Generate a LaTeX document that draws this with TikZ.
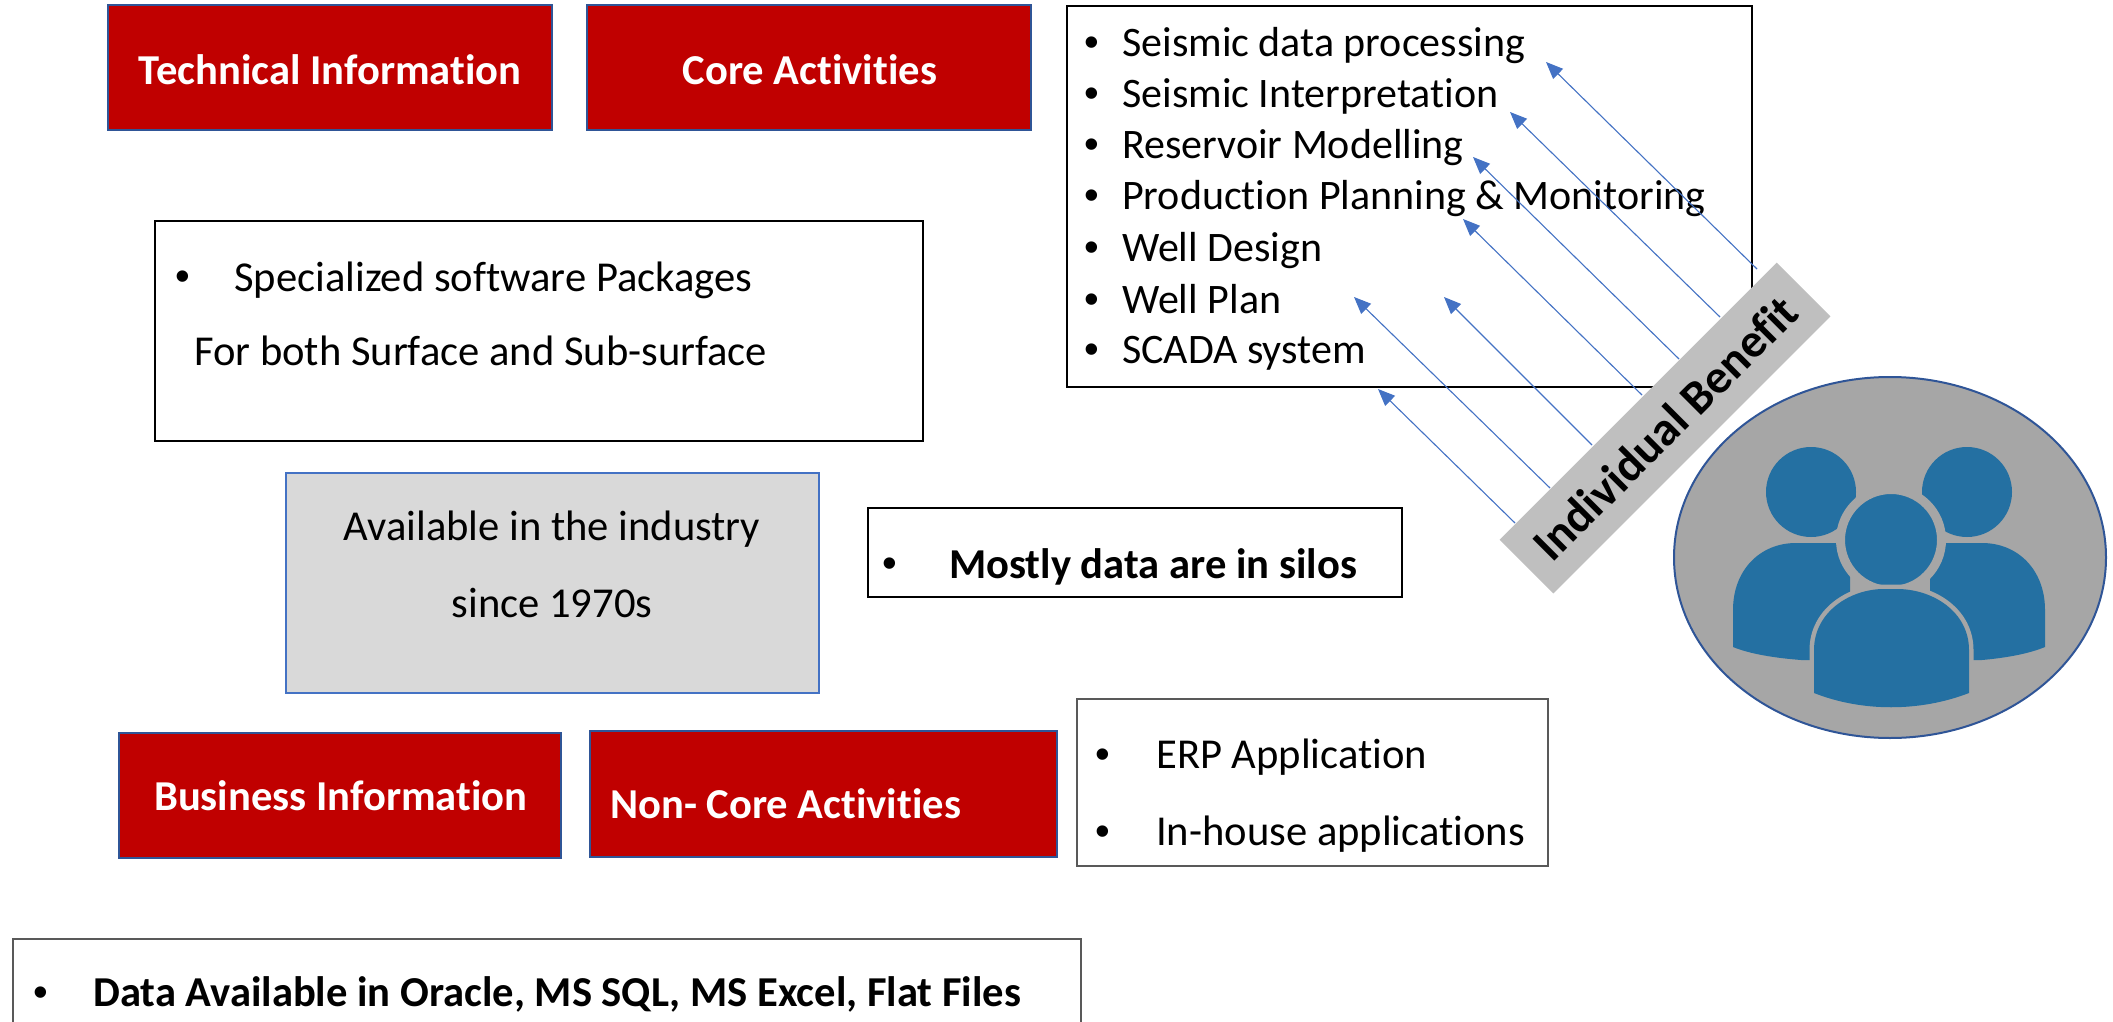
\documentclass[tikz,border=0pt]{standalone}
\usepackage{fontspec}
\setmainfont[Ligatures=NoCommon]{Carlito}
\newfontfamily\bulletfont{Liberation Sans}
\usetikzlibrary{arrows.meta,shapes.geometric}
\definecolor{redfill}{HTML}{C00000}
\definecolor{redline}{HTML}{2F5597}
\definecolor{arrowblue}{HTML}{4472C4}
\definecolor{iconblue}{HTML}{2470A2}
\definecolor{circlegrey}{HTML}{A6A6A6}
\definecolor{bandgrey}{HTML}{BFBFBF}
\definecolor{softblack}{HTML}{595959}
\newcommand{\fs}[1]{\fontsize{#1}{#1}\selectfont}
\tikzset{
  x=1pt,y=-1pt,
  redbox/.style={draw=redline,line width=2.5pt,fill=redfill,inner sep=0pt},
  plainbox/.style={draw=black,line width=1.6pt,fill=white,inner sep=0pt},
  softbox/.style={draw=softblack,line width=1.6pt,fill=white,inner sep=0pt},
  greybox/.style={draw=arrowblue,line width=1.4pt,fill=black!15,inner sep=0pt},
  redtext/.style={anchor=base,inner sep=0pt,text=white,font=\fs{42.6}\bfseries},
  redleft/.style={anchor=base west,inner sep=0pt,text=white,font=\fs{42.6}\bfseries},
  listtext/.style={anchor=base west,inner sep=0pt,font=\fs{42}},
  bodytext/.style={anchor=base west,inner sep=0pt,font=\fs{42.6}},
  midtext/.style={anchor=base,inner sep=0pt,font=\fs{42.6}},
  boldtext/.style={anchor=base west,inner sep=0pt,font=\fs{42.6}\bfseries},
  bulletmark/.style={anchor=base west,inner sep=0pt,font=\bulletfont\fs{42}},
  benefit/.style={-{Triangle[length=17pt,width=14pt]},draw=arrowblue,line width=1.1pt},
  iconpart/.style={fill=iconblue,draw=none},
}
\begin{document}
\begin{tikzpicture}
\useasboundingbox (0,0) rectangle (2113,1022);
% red boxes
\node[redbox,minimum width=444pt,minimum height=125pt] (tech) at (330,67.5) {};
\node[redbox,minimum width=444pt,minimum height=125pt] (core) at (809,67.5) {};
\node[redbox,minimum width=442pt,minimum height=125pt] (biz) at (340,795.5) {};
\node[redbox,minimum width=467pt,minimum height=126pt] (noncore) at (823.5,794) {};
\node[redtext] (techt) at (330,85) {Technical Information};
\node[redtext] (coret) at (810,85) {Core Activities};
\node[redleft] (bizt) at (154,810) {Business Information};
\node[redleft] (noncoret) at (610,818) {Non- Core Activities};
% seismic list box
\node[plainbox,minimum width=685pt,minimum height=381pt] (list) at (1409.5,196.5) {};
\foreach \n/\y/\t in {a/57/Seismic data processing,b/108/Seismic Interpretation,c/159/Reservoir Modelling,d/209/Production Planning \& Monitoring,e/261/Well Design,f/313/Well Plan,g/363/SCADA system}{
  \node[bulletmark] (bul\n) at (1084,\y) {•};
  \node[listtext] (item\n) at (1122,\y) {\t};
}
% specialized
\node[plainbox,minimum width=768pt,minimum height=220pt] (spec) at (539,331) {};
\node[bulletmark] (specb) at (175,290) {•};
\node[bodytext] (spec1) at (234,291) {Specialized software Packages};
\node[bodytext] (spec2) at (194,365) {For both Surface and Sub-surface};
% available
\node[greybox,minimum width=533pt,minimum height=220pt] (avail) at (552.5,583) {};
\node[midtext] (av1) at (552,540) {Available in the industry};
\node[midtext] (av2) at (552,617) {since 1970s};
% silos
\node[plainbox,minimum width=534pt,minimum height=89pt] (silo) at (1135,552.5) {};
\node[bulletmark] (silob) at (882,577) {•};
\node[boldtext] (silot) at (949,578) {Mostly data are in silos};
% ERP
\node[softbox,minimum width=471pt,minimum height=167pt] (erp) at (1312.5,782.5) {};
\node[bulletmark] (erpb1) at (1095,768) {•};
\node[bodytext] (erp1) at (1156,768) {ERP Application};
\node[bulletmark] (erpb2) at (1095,845) {•};
\node[bodytext] (erp2) at (1156,845) {In-house applications};
% data box, cut by the page edge
\coordinate (dl) at (13,1022); \coordinate (dtl) at (13,939);
\coordinate (dtr) at (1081,939); \coordinate (dr) at (1081,1022);
\draw[draw=softblack,line width=1.6pt] (dl) -- (dtl) -- (dtr) -- (dr);
\node[bulletmark] (datab) at (33,1006) {•};
\node[boldtext] (datat) at (93,1006) {Data Available in Oracle, MS SQL, MS Excel, Flat Files};
% arrows
\foreach \n/\tx/\ty/\hx/\hy in {1/1757/269/1546/62,2/1720/317/1510/112,3/1679/359/1473/157,4/1642/395/1463/219,5/1592/445/1444/297,6/1550/488/1354/297,7/1515/523/1378/389}{
  \coordinate (tail\n) at (\tx,\ty);
  \coordinate (tip\n) at (\hx,\hy);
  \draw[benefit] (tail\n) -- (tip\n);
}
% band
\node[fill=bandgrey,rotate=45,minimum width=392pt,minimum height=76pt,inner sep=0pt,font=\fs{47.8}\bfseries] (band) at (1665,428) {Individual Benefit};
% people
\node[ellipse,draw=redline,line width=2pt,fill=circlegrey,minimum width=432pt,minimum height=361pt,inner sep=0pt] (people) at (1890,557.5) {};
\node[ellipse,iconpart,minimum width=90pt,minimum height=90pt,inner sep=0pt] (headl) at (1811,492) {};
\node[ellipse,iconpart,minimum width=90pt,minimum height=90pt,inner sep=0pt] (headr) at (1967,492) {};
\fill[iconblue] (1733,647) -- (1733,610) .. controls (1733,570) and (1760,543) .. (1796,543) -- (1850,543) -- (1850,660) -- (1801,660) .. controls (1775,658) and (1750,654) .. (1733,647) -- cycle;
\fill[iconblue] (2045,647) -- (2045,610) .. controls (2045,570) and (2018,543) .. (1982,543) -- (1930,543) -- (1930,660) -- (1982,660) .. controls (2005,658) and (2028,654) .. (2045,647) -- cycle;
\node[ellipse,fill=iconblue,draw=circlegrey,line width=9pt,minimum width=101pt,minimum height=101pt,inner sep=0pt] (headc) at (1891,540) {};
\filldraw[fill=iconblue,draw=circlegrey,line width=9pt] (1814,693) -- (1814,650) .. controls (1814,612) and (1850,589) .. (1884,589) -- (1897,589) .. controls (1933,589) and (1969,612) .. (1969,650) -- (1969,693) .. controls (1920,712) and (1862,712) .. (1814,693) -- cycle;
\fill[iconblue] (1814,693) -- (1814,650) .. controls (1814,612) and (1850,589) .. (1884,589) -- (1897,589) .. controls (1933,589) and (1969,612) .. (1969,650) -- (1969,693) .. controls (1920,712) and (1862,712) .. (1814,693) -- cycle;
\end{tikzpicture}
\end{document}
